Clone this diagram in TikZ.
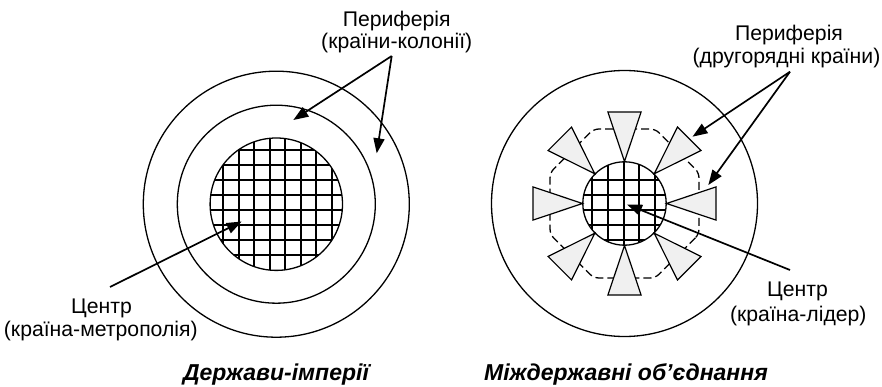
\documentclass[tikz,border=0pt]{standalone}
\usepackage{fontspec}
\setmainfont{Liberation Sans}
\usetikzlibrary{arrows.meta}
\begin{document}
\begin{tikzpicture}[x=1pt,y=-1pt,
  ring/.style={line width=1.3pt},
  gridline/.style={line width=2pt, black},
  ptr/.style={line width=1.7pt, -{Triangle[length=15pt,width=11pt]}},
  lbl/.style={font=\fontsize{21.2}{25}\selectfont, anchor=base, inner sep=0pt},
  ttl/.style={font=\fontsize{23}{27}\selectfont\bfseries\itshape, anchor=base, inner sep=0pt},
  petal/.style={draw, fill=black!6, line width=1.2pt, line join=miter},
  octo/.style={draw, dash pattern=on 8pt off 4pt, line width=1.3pt, rounded corners=5pt}
]
\useasboundingbox (0,0) rectangle (882,387);

% ---------- left diagram ----------
\coordinate (L) at (276.3,204.2);
\draw[ring] (L) circle[radius=133pt];
\draw[ring] (L) circle[radius=99pt];
\begin{scope}
  \clip (L) circle[radius=66.2pt];
  \foreach \i in {0,...,7} { \draw[gridline] (223.3+15.48*\i,130) -- ++(0,150); }
  \foreach \j in {0,...,7} { \draw[gridline] (200,149.7+15*\j) -- ++(160,0); }
\end{scope}
\draw[ring] (L) circle[radius=66.2pt];

% ---------- right diagram ----------
\coordinate (R) at (624.5,203.5);
\draw[ring] (R) circle[radius=133pt];
\begin{scope}[shift={(R)}]
  \draw[octo] (22.5:80.6) -- (67.5:80.6) -- (112.5:80.6) -- (157.5:80.6) -- (202.5:80.6) -- (247.5:80.6) -- (292.5:80.6) -- (337.5:80.6) -- cycle;
  \foreach \a in {0,45,...,315} {
    \begin{scope}[rotate=\a]
      \draw[petal] (42,0) -- (91.5,16.6) -- (91.5,-16.6) -- cycle;
    \end{scope}
  }
\end{scope}
\begin{scope}
  \clip (R) circle[radius=41.7pt];
  \foreach \i in {0,...,4} { \draw[gridline] (592.3+15.7*\i,150) -- ++(0,110); }
  \foreach \j in {0,...,4} { \draw[gridline] (570,180+15*\j) -- ++(110,0); }
\end{scope}
\draw[ring] (R) circle[radius=41.7pt];

% ---------- labels ----------
\node[lbl] (lpTop) at (396.7,26.7) {Периферія};
\node[lbl] (lpSub) at (396.7,48.5) {(країни-колонії)};
\node[lbl] (lcTop) at (101.5,313.3) {Центр};
\node[lbl] (lcSub) at (100.8,336.7) {(країна-метрополія)};
\node[lbl] (rpTop) at (789,41) {Периферія};
\node[lbl] (rpSub) at (786.5,63.3) {(другорядні країни)};
\node[lbl] (rcTop) at (797.5,296.7) {Центр};
\node[lbl] (rcSub) at (798.3,321.7) {(країна-лідер)};
\node[ttl] (lTitle) at (276,380) {Держави-імперії};
\node[ttl] (rTitle) at (626,380) {Міждержавні об’єднання};

% ---------- arrows ----------
\coordinate (lpS) at (391.7,56);
\coordinate (lpT1) at (293.3,120);
\coordinate (lpT2) at (376.7,153.3);
\draw[ptr] (lpS) -- (lpT1);
\draw[ptr] (lpS) -- (lpT2);
\coordinate (lcS) at (110,287);
\coordinate (lcT) at (241.7,221.5);
\draw[ptr] (lcS) -- (lcT);
\coordinate (rpS) at (790,71.7);
\coordinate (rpT1) at (692.5,136.7);
\coordinate (rpT2) at (708.3,185);
\draw[ptr] (rpS) -- (rpT1);
\draw[ptr] (rpS) -- (rpT2);
\coordinate (rcS) at (790,270);
\coordinate (rcT) at (627,204.5);
\draw[ptr] (rcS) -- (rcT);
\end{tikzpicture}
\end{document}
